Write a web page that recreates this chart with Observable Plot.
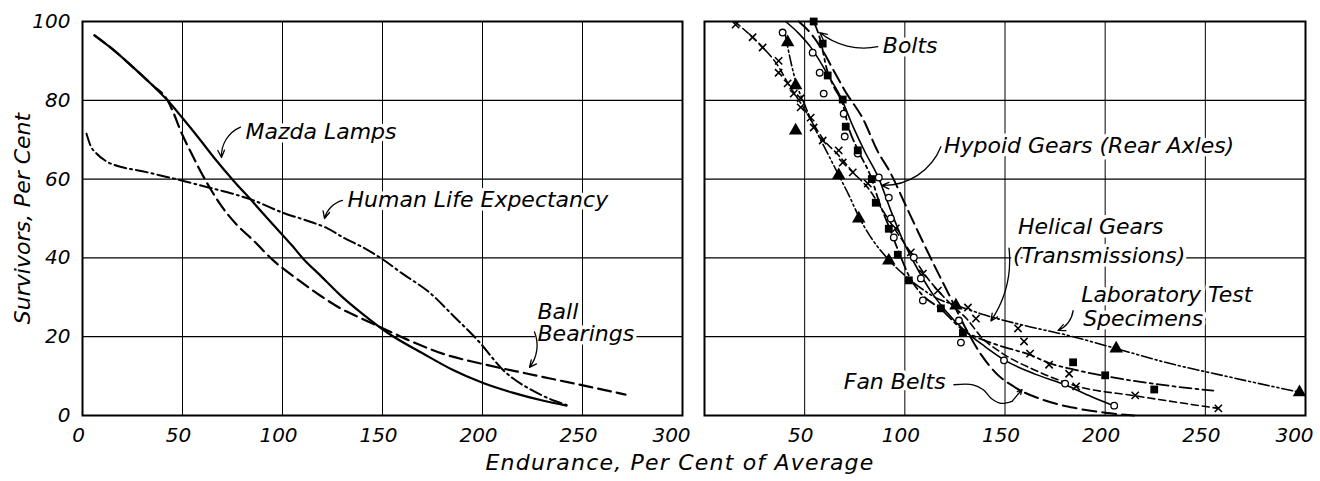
<!DOCTYPE html>
<html>
<head>
<meta charset="utf-8">
<script src="https://cdn.jsdelivr.net/npm/d3@7"></script>
<script src="https://cdn.jsdelivr.net/npm/@observablehq/plot@0.6"></script>
<style>
  body { margin: 0; background: #fff; }
  #chart { position: relative; width: 1320px; height: 481px; overflow: hidden; background: #fff; }
  #chart svg { position: absolute; top: 0; }
  #chart svg text { font-style: italic; }
  .xtitle {
    position: absolute; top: 449px; left: 0; width: 1360px; text-align: center;
    font: italic 22px "DejaVu Sans", sans-serif; letter-spacing: 1.2px; line-height: 28px; color: #000;
  }
</style>
</head>
<body>
<div id="chart"></div>
<script>
// ---- axes ----
const xTicksLeft = [0, 50, 100, 150, 200, 250];
const xTicksRight = [50, 100, 150, 200, 250];
const xTickLast = [300];
const yTicks = [0, 20, 40, 60, 80, 100];
const xGrid = [50, 100, 150, 200, 250];
const yGrid = [20, 40, 60, 80];
const yTitle = "Survivors, Per Cent";
const xTitle = "Endurance, Per Cent of Average";

// ---- left panel: survival curves [endurance %, survivors %] ----
const mazdaLamps = [[6,96.5],[15,93],[25.5,88.3],[35,83.8],[42.5,80],[50,75.5],[58,70.5],[66,65.3],[75.5,59.6],[85,54.3],[95,48.6],[105,43],[110,40],[119,35.5],[129,30.5],[140,25.8],[152.5,21],[170,15.8],[185,11.6],[200,8.3],[215,5.8],[230,3.8],[242,2.5]];
const ballBearings = [[6,96.5],[15,93],[25.5,88.3],[35,83.8],[42.5,80],[46,76.2],[49,72.3],[54,67],[59,62],[64,57.5],[69,53.5],[77,48.5],[85.5,44.4],[95.5,39.3],[105,35.5],[119,30.4],[129,27.2],[140,24.5],[152.5,21.6],[165,18.7],[180,15.7],[199,13.2],[222.5,10.6],[245,8.2],[271.5,5.3]];
const humanLife = [[2,71.5],[4,68.5],[7,66.5],[12,64.5],[20,63],[30,62],[40,60.8],[50,59.6],[62,58],[75,56.3],[85.5,54.6],[100,51.5],[112,49.5],[122.5,47.5],[131,45],[140.5,42.6],[149,40],[160,36],[174,31],[186,25],[194,21],[199,18.3],[204,15.2],[209,12.2],[215,9.5],[222,7.2],[229,5.3],[235.5,3.8],[242,2.7]];

const leftLabels = [
  {text: "Mazda Lamps", x: 81.5, y: 72},
  {text: "Human Life Expectancy", x: 132.5, y: 54.6},
  {text: "Ball", x: 227.5, y: 26.4},
  {text: "Bearings", x: 227.5, y: 20.6}
];
const leftLeaders = [
  {x1: 79, y1: 73.2, x2: 69.5, y2: 65.5, bend: -35},
  {x1: 130, y1: 54.6, x2: 121, y2: 50, bend: -30},
  {x1: 226, y1: 21.2, x2: 223.5, y2: 12.2, bend: 30}
];

// ---- right panel: test data points and fitted curves ----
const boltsPoints = [[54.5,100],[59,94.4],[61.5,86.3],[69,80.2],[70.5,73.3],[76.5,67.3],[83.5,60],[85.5,54],[92,47.4],[96.5,40.8],[102,34.3],[118,27.2],[129,21],[184,13.5],[200,10.2],[224.5,6.6]];
const boltsCurve = [[54.5,100],[58,95],[61,88],[64.5,83.5],[69,79],[72,73],[77,67],[83.5,60],[87,54.5],[92,48],[97,41.5],[102,35.5],[108,31],[118,27],[129,21.7],[140,19],[150,17.3],[162,15.5],[172,13.3],[185,11.6],[200,10],[225,8],[254,6.3]];

const hypoidPoints = [[39,97.2],[54,92.1],[57.5,87],[59.5,81.7],[69.5,76.6],[70,70.8],[76.5,66.5],[87,60.4],[92,55.3],[93,50],[94.5,45.2],[104.5,40.1],[108,34.8],[109,29.2],[127,24.1],[128,18.5],[149.5,14],[180,8.1],[204.5,2.5]];
const hypoidCurve = [[40.5,100],[47,97],[53,93.5],[57.5,90],[61.3,86.7],[68,80.8],[74,73.5],[80,67],[87,60.2],[93,52],[99,44.5],[106,37.5],[113,31.5],[120,26.8],[130,21.5],[140,17.5],[150,14],[165,10.5],[180,7.8],[193,4.8],[205,2.3]];

const helicalPoints = [[15.5,99.2],[24,96],[29,93.4],[37,90],[37,87],[41.5,84.3],[44.5,81.7],[48,80.5],[48,78.2],[53,75.6],[54.5,73.1],[59,69.8],[67,67.3],[69,64.2],[74,61.7],[81.5,58.9],[95.5,47.5],[103,41.4],[109,36],[116.5,31.7],[131.5,27.4],[135.5,24.6],[156.5,22.1],[159.5,18.8],[162.5,15.7],[172,12.9],[182,10.6],[185.5,7.4],[215,5.1],[256.5,1.8]];
const helicalCurve = [[15,100],[24,96],[29,93.5],[37,88.5],[42,84],[48,79.3],[54,74.3],[59,70.3],[67,66],[74,61.8],[82,57.5],[89,52],[96,46.5],[103,41.3],[109,36.5],[116,32],[124,27.8],[131,24.5],[138,20],[148,16],[165,11.5],[185.5,7.5],[215,5],[256.5,1.8]];

const labPoints = [[41.5,94.7],[45.5,83.8],[45.5,72.3],[67,61],[77,50],[92,39.3],[125.5,27.9],[205.5,17],[297,5.9]];
const labCurve = [[40,97.5],[43,90],[46,84],[49.5,79.5],[55,73],[62,66],[67,61],[72,56],[77,50.5],[84,44.5],[92,39.5],[105,33.5],[117,29.5],[125.5,28],[140,25.5],[160,22.8],[180,20.5],[205.5,17],[230,13.5],[260,10],[297,5.9]];

const fanBeltsCurve = [[47,100],[53,97],[59,92.6],[64,88],[70,82.5],[79.5,74.9],[86,67.5],[93,61.4],[100,53.8],[107,46.2],[115,37.8],[123,29.7],[130,22.5],[138,15.5],[146,10.5],[154.5,7.3],[170,3.8],[185,1.9],[200,0.7],[214.5,0]];

const rightLabels = [
  {text: "Bolts", x: 89, y: 93.7},
  {text: "Hypoid Gears (Rear Axles)", x: 119.5, y: 68.5},
  {text: "Helical Gears", x: 156.5, y: 47.8},
  {text: "(Transmissions)", x: 154, y: 40.4},
  {text: "Laboratory Test", x: 188, y: 30.6},
  {text: "Specimens", x: 189, y: 24.5},
  {text: "Fan Belts", x: 69.5, y: 8.5}
];
const rightLeaders = [
  {x1: 86.5, y1: 93.6, x2: 57.5, y2: 97.2, bend: 25},
  {x1: 118, y1: 68.2, x2: 88.5, y2: 58.4, bend: 35},
  {x1: 152, y1: 42.5, x2: 143, y2: 24, bend: 20},
  {x1: 184, y1: 26.6, x2: 176.5, y2: 21.6, bend: 30},
  {x1: 153.5, y1: 3.6, x2: 158.5, y2: 6.6, bend: 0}
];
const fanBeltsTail = [[124.5,7.8],[134,7.8],[139,6.6],[143.5,4.2],[148,3.1],[153.5,3.6]];

// ---- drawing ----
const pts = a => a.map(([x, y]) => ({x, y}));
const FONT = '"DejaVu Sans", "Noto Sans", sans-serif';
const textStyle = {fontFamily: FONT, fontStyle: "italic", fill: "#000"};
const tickStyle = {tickSize: 0, tickPadding: 12, fontSize: 20, label: null, ...textStyle};

function panel({left, width, marginLeft, marginRight, xTicks, showY, background, marks}) {
  const svg = Plot.plot({
    width, height: 450,
    marginLeft, marginRight, marginTop: 21, marginBottom: 35,
    x: {domain: [0, 300]},
    y: {domain: [0, 100], axis: showY ? undefined : null},
    style: {fontFamily: FONT, fontStyle: "italic", color: "#000", background, overflow: "visible"},
    marks: [
      Plot.gridX(xGrid, {stroke: "#000", strokeOpacity: 1, strokeWidth: 1}),
      Plot.gridY(yGrid, {stroke: "#000", strokeOpacity: 1, strokeWidth: 1.2}),
      ...marks,
      Plot.frame({stroke: "#000", strokeWidth: 2}),
      Plot.axisX({ticks: xTicks, dx: -4, ...tickStyle}),
      Plot.axisX({ticks: xTickLast, dx: -11, ...tickStyle}),
      ...(showY ? [
        Plot.axisY({ticks: yTicks, ...tickStyle}),
        Plot.text([yTitle], {frameAnchor: "left", textAnchor: "middle", lineAnchor: "middle", dx: -60, rotate: -90, fontSize: 22, ...textStyle})
      ] : [])
    ]
  });
  svg.style.left = left + "px";
  return svg;
}

const curve = (data, dash, w = 2) =>
  Plot.line(pts(data), {x: "x", y: "y", curve: "monotone-x", stroke: "#000", strokeWidth: w, strokeDasharray: dash});
const labels = data =>
  Plot.text(data, {x: "x", y: "y", text: "text", textAnchor: "start", fontSize: 22, ...textStyle, stroke: "#fff", strokeWidth: 7});
const leaders = data => data.map(d =>
  Plot.arrow([d], {x1: "x1", y1: "y1", x2: "x2", y2: "y2", bend: d.bend, headLength: 9, headAngle: 50, stroke: "#000", strokeWidth: 1.3}));

const leftSvg = panel({
  left: 0, width: 693, marginLeft: 82, marginRight: 11, xTicks: xTicksLeft, showY: true, background: "#fff",
  marks: [
    curve(humanLife, "12,4,2,4", 2),
    curve(ballBearings, "13,6", 2.2),
    curve(mazdaLamps, null, 2.2),
    labels(leftLabels),
    ...leaders(leftLeaders)
  ]
});

const rightSvg = panel({
  left: 693, width: 627, marginLeft: 11, marginRight: 15, xTicks: xTicksRight, showY: false, background: "none",
  marks: [
    curve(fanBeltsCurve, "14,6", 2),
    curve(labCurve, "11,3,2,3,2,3", 1.6),
    curve(helicalCurve, "7,4", 1.6),
    curve(boltsCurve, "12,4,3,4", 1.8),
    curve(hypoidCurve, null, 1.6),
    Plot.dot(pts(labPoints), {x: "x", y: "y", symbol: "triangle", r: 5, fill: "#000"}),
    Plot.dot(pts(helicalPoints), {x: "x", y: "y", symbol: "times", r: 3.4, stroke: "#000", strokeWidth: 1.6}),
    Plot.dot(pts(hypoidPoints), {x: "x", y: "y", symbol: "circle", r: 3.3, fill: "#fff", stroke: "#000", strokeWidth: 1.3}),
    Plot.dot(pts(boltsPoints), {x: "x", y: "y", symbol: "square", r: 4.4, fill: "#000"}),
    labels(rightLabels),
    Plot.line(pts(fanBeltsTail), {x: "x", y: "y", curve: "catmull-rom", stroke: "#000", strokeWidth: 1.3}),
    ...leaders(rightLeaders)
  ]
});

const chart = document.getElementById("chart");
chart.append(leftSvg, rightSvg);
// make every chart text italic, like the hand lettering of the drawing
d3.select(chart).selectAll("svg text").attr("font-style", "italic");
const title = document.createElement("div");
title.className = "xtitle";
title.textContent = xTitle;
chart.append(title);
</script>
</body>
</html>
